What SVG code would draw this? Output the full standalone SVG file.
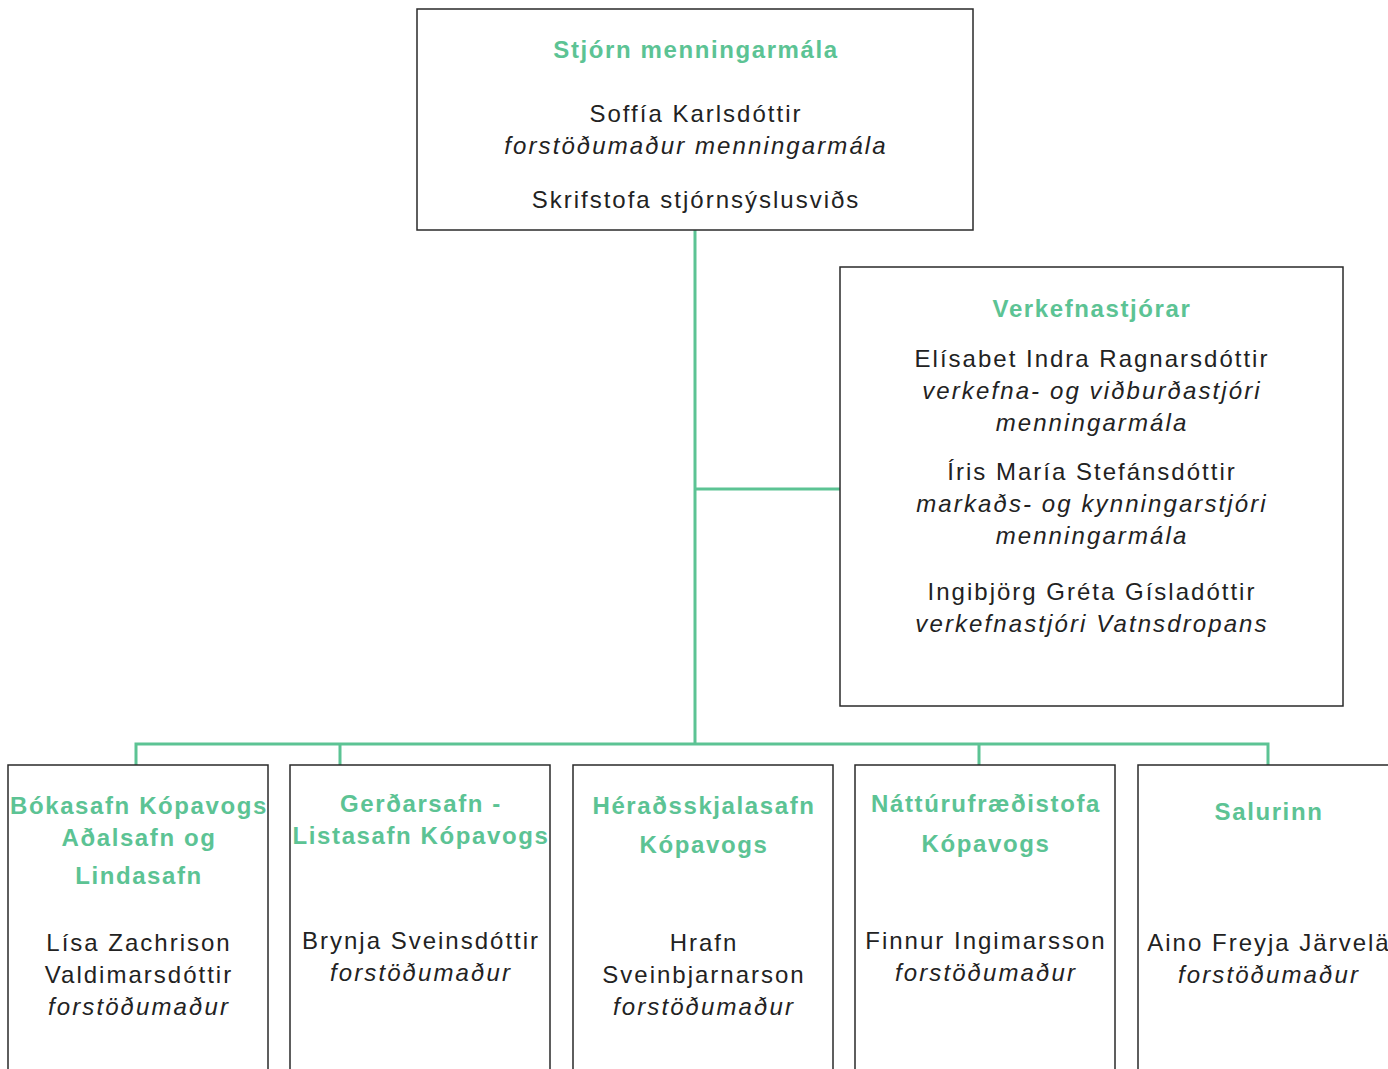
<svg xmlns="http://www.w3.org/2000/svg" width="1388" height="1069" viewBox="0 0 1388 1069">
<style>
.box{fill:#fff;stroke:#2a2a2a;stroke-width:1.5}
.con{fill:none;stroke:#5cc394;stroke-width:3}
text{font-family:"Liberation Sans",Arial,sans-serif;font-size:24px;text-anchor:middle;fill:#222;letter-spacing:2px}
.h{font-weight:bold;fill:#5cc394;letter-spacing:1.6px}
.i{font-style:italic;letter-spacing:2.1px}
</style>
<rect width="1388" height="1069" fill="#fff"/>
<g id="connectors">
<path class="con" d="M695 230 V744 M695 489 H840 M136 765 V744 H1268 V765 M340 744 V765 M979 744 V765"/>
</g>
<g id="n-top">
<rect class="box" x="417" y="9" width="556" height="221"/>
<text class="h" x="696" y="58">Stjórn menningarmála</text>
<text x="696" y="122">Soffía Karlsdóttir</text>
<text class="i" x="696" y="154">forstöðumaður menningarmála</text>
<text x="696" y="208">Skrifstofa stjórnsýslusviðs</text>
</g>
<g id="n-verk">
<rect class="box" x="840" y="267" width="503" height="439"/>
<text class="h" x="1092" y="317">Verkefnastjórar</text>
<text x="1092" y="367">Elísabet Indra Ragnarsdóttir</text>
<text class="i" x="1092" y="399">verkefna- og viðburðastjóri</text>
<text class="i" x="1092" y="431">menningarmála</text>
<text x="1092" y="480">Íris María Stefánsdóttir</text>
<text class="i" x="1092" y="512">markaðs- og kynningarstjóri</text>
<text class="i" x="1092" y="544">menningarmála</text>
<text x="1092" y="600">Ingibjörg Gréta Gísladóttir</text>
<text class="i" x="1092" y="632">verkefnastjóri Vatnsdropans</text>
</g>
<g id="n-bokasafn">
<rect class="box" x="8" y="765" width="260" height="320"/>
<text class="h" x="139" y="814">Bókasafn Kópavogs</text>
<text class="h" x="139" y="846">Aðalsafn og</text>
<text class="h" x="139" y="884">Lindasafn</text>
<text x="139" y="951">Lísa Zachrison</text>
<text x="139" y="983">Valdimarsdóttir</text>
<text class="i" x="139" y="1015">forstöðumaður</text>
</g>
<g id="n-gerdarsafn">
<rect class="box" x="290" y="765" width="260" height="320"/>
<text class="h" x="421" y="812">Gerðarsafn -</text>
<text class="h" x="421" y="844">Listasafn Kópavogs</text>
<text x="421" y="949">Brynja Sveinsdóttir</text>
<text class="i" x="421" y="981">forstöðumaður</text>
</g>
<g id="n-heradsskjalasafn">
<rect class="box" x="573" y="765" width="260" height="320"/>
<text class="h" x="704" y="814">Héraðsskjalasafn</text>
<text class="h" x="704" y="853">Kópavogs</text>
<text x="704" y="951">Hrafn</text>
<text x="704" y="983">Sveinbjarnarson</text>
<text class="i" x="704" y="1015">forstöðumaður</text>
</g>
<g id="n-natturufraedistofa">
<rect class="box" x="855" y="765" width="260" height="320"/>
<text class="h" x="986" y="812">Náttúrufræðistofa</text>
<text class="h" x="986" y="852">Kópavogs</text>
<text x="986" y="949">Finnur Ingimarsson</text>
<text class="i" x="986" y="981">forstöðumaður</text>
</g>
<g id="n-salurinn">
<rect class="box" x="1138" y="765" width="260" height="320"/>
<text class="h" x="1269" y="820">Salurinn</text>
<text x="1269" y="951">Aino Freyja Järvelä</text>
<text class="i" x="1269" y="983">forstöðumaður</text>
</g>
</svg>
